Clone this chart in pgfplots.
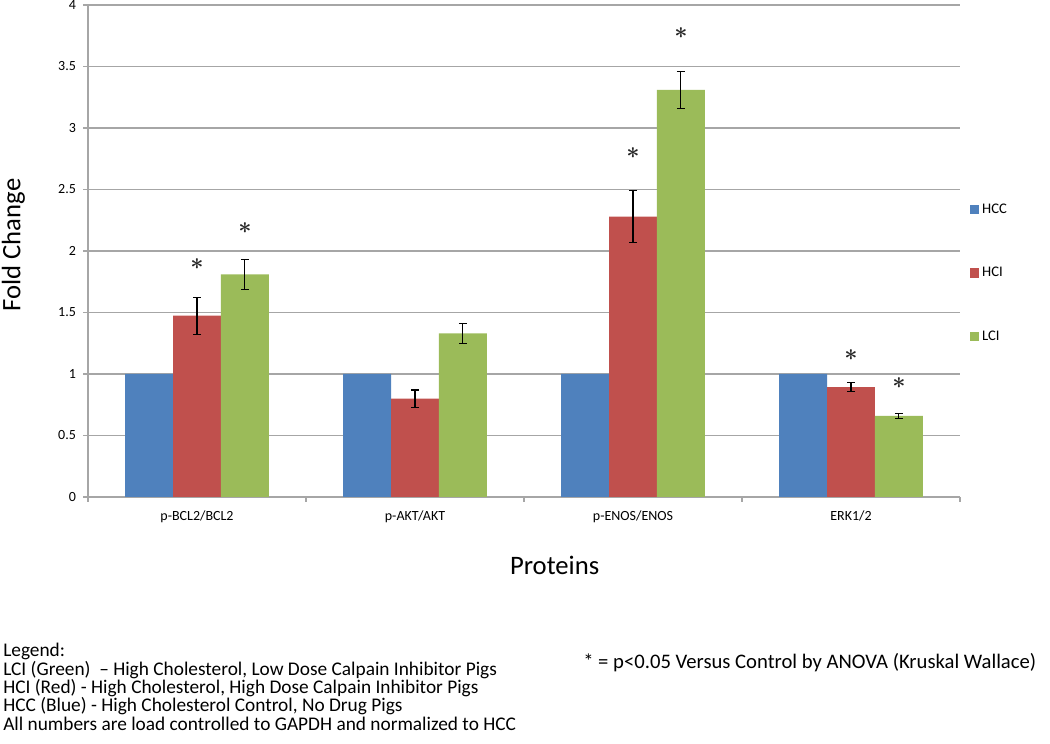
\documentclass[border=0pt]{standalone}
\usepackage{pgfplots}
\pgfplotsset{compat=1.18}
\usepackage{fontspec}
\setmainfont{Carlito}
\definecolor{hcc}{HTML}{4F81BD}
\definecolor{hci}{HTML}{C0504D}
\definecolor{lci}{HTML}{9BBB59}
\definecolor{gridc}{HTML}{A6A6A6}
\protected\def\sigstar{{\boldmath$\ast$}}
\begin{document}
\begin{tikzpicture}
\useasboundingbox (0,0) rectangle (787.5pt,557.25pt);
\begin{axis}[
  at={(66pt,184.5pt)}, anchor=south west,
  scale only axis, width=654pt, height=369pt,
  xmin=-0.5, xmax=3.5, ymin=0, ymax=4,
  axis x line*=bottom, axis y line*=left,
  axis line style={gridc, line width=1pt, -},
  ytick={0,0.5,1,1.5,2,2.5,3,3.5,4},
  ymajorgrids, grid style={gridc, line width=1pt},
  xtick={0,1,2,3},
  xticklabels={p-BCL2/BCL2,p-AKT/AKT,p-ENOS/ENOS,ERK1/2},
  minor xtick={-0.5,0.5,1.5,2.5,3.5},
  major x tick style={draw=none},
  tick style={gridc, line width=1pt},
  tick align=outside,
  major tick length=3.5pt, minor tick length=3.5pt,
  /pgf/number format/assume math mode=true,
  ticklabel style={font=\fontsize{10.5}{12}\selectfont},
  yticklabel style={xshift=-2pt},
  xticklabel style={yshift=-3pt},
  legend style={at={(1.011,0.455)}, anchor=west, draw=none, fill=none,
    font=\fontsize{11}{12}\selectfont, row sep=35pt, inner sep=0pt,
    cells={anchor=west}},
]
\addplot[ybar, bar width=0.22, bar shift=0, fill=hcc, draw=none,
  legend image code/.code={\fill[hcc] (0pt,-3.6pt) rectangle (7.2pt,3.6pt);}]
  coordinates {(-0.22,1) (0.78,1) (1.78,1) (2.78,1)};
\addplot[ybar, bar width=0.22, bar shift=0, fill=hci, draw=none,
  legend image code/.code={\fill[hci] (0pt,-3.6pt) rectangle (7.2pt,3.6pt);},
  error bars/.cd, y dir=both, y explicit,
  error bar style={black, line width=0.8pt},
  error mark options={rotate=90, mark size=3pt, black, line width=0.8pt}]
  coordinates {(0,1.474) +- (0,0.15) (1,0.80) +- (0,0.07) (2,2.28) +- (0,0.21) (3,0.894) +- (0,0.035)};
\addplot[ybar, bar width=0.22, bar shift=0, fill=lci, draw=none,
  legend image code/.code={\fill[lci] (0pt,-3.6pt) rectangle (7.2pt,3.6pt);},
  error bars/.cd, y dir=both, y explicit,
  error bar style={black, line width=0.8pt},
  error mark options={rotate=90, mark size=3pt, black, line width=0.8pt}]
  coordinates {(0.22,1.81) +- (0,0.12) (1.22,1.33) +- (0,0.08) (2.22,3.31) +- (0,0.15) (3.22,0.66) +- (0,0.02)};
\addplot[draw=none, mark=none, forget plot, nodes near coords={\sigstar},
  every node near coord/.append style={anchor=center, text=black!85, inner sep=0pt,
    font=\fontsize{17}{17}\selectfont}]
  coordinates {(0,1.89) (0.22,2.19) (2,2.8) (2.22,3.77) (3,1.15) (3.22,0.93)};
\legend{HCC,HCI,LCI}
\end{axis}
\node[rotate=90, font=\fontsize{20}{24}\selectfont] at (10pt,373.5pt) {Fold Change};
\node[font=\fontsize{20}{24}\selectfont] at (416pt,133.5pt) {Proteins};
\node[anchor=north west, align=left, inner sep=0pt, font=\fontsize{14.5}{13.8}\selectfont]
  at (2.25pt,75pt) {Legend:\\
LCI (Green)\ \ – High Cholesterol, Low Dose Calpain Inhibitor Pigs\\
HCI (Red) - High Cholesterol, High Dose Calpain Inhibitor Pigs\\
HCC (Blue) - High Cholesterol Control, No Drug Pigs\\
All numbers are load controlled to GAPDH and normalized to HCC};
\node[anchor=west, inner sep=0pt, font=\fontsize{15.5}{18}\selectfont]
  at (437.25pt,60pt) {* = p<0.05 Versus Control by ANOVA (Kruskal Wallace)};
\end{tikzpicture}
\end{document}
